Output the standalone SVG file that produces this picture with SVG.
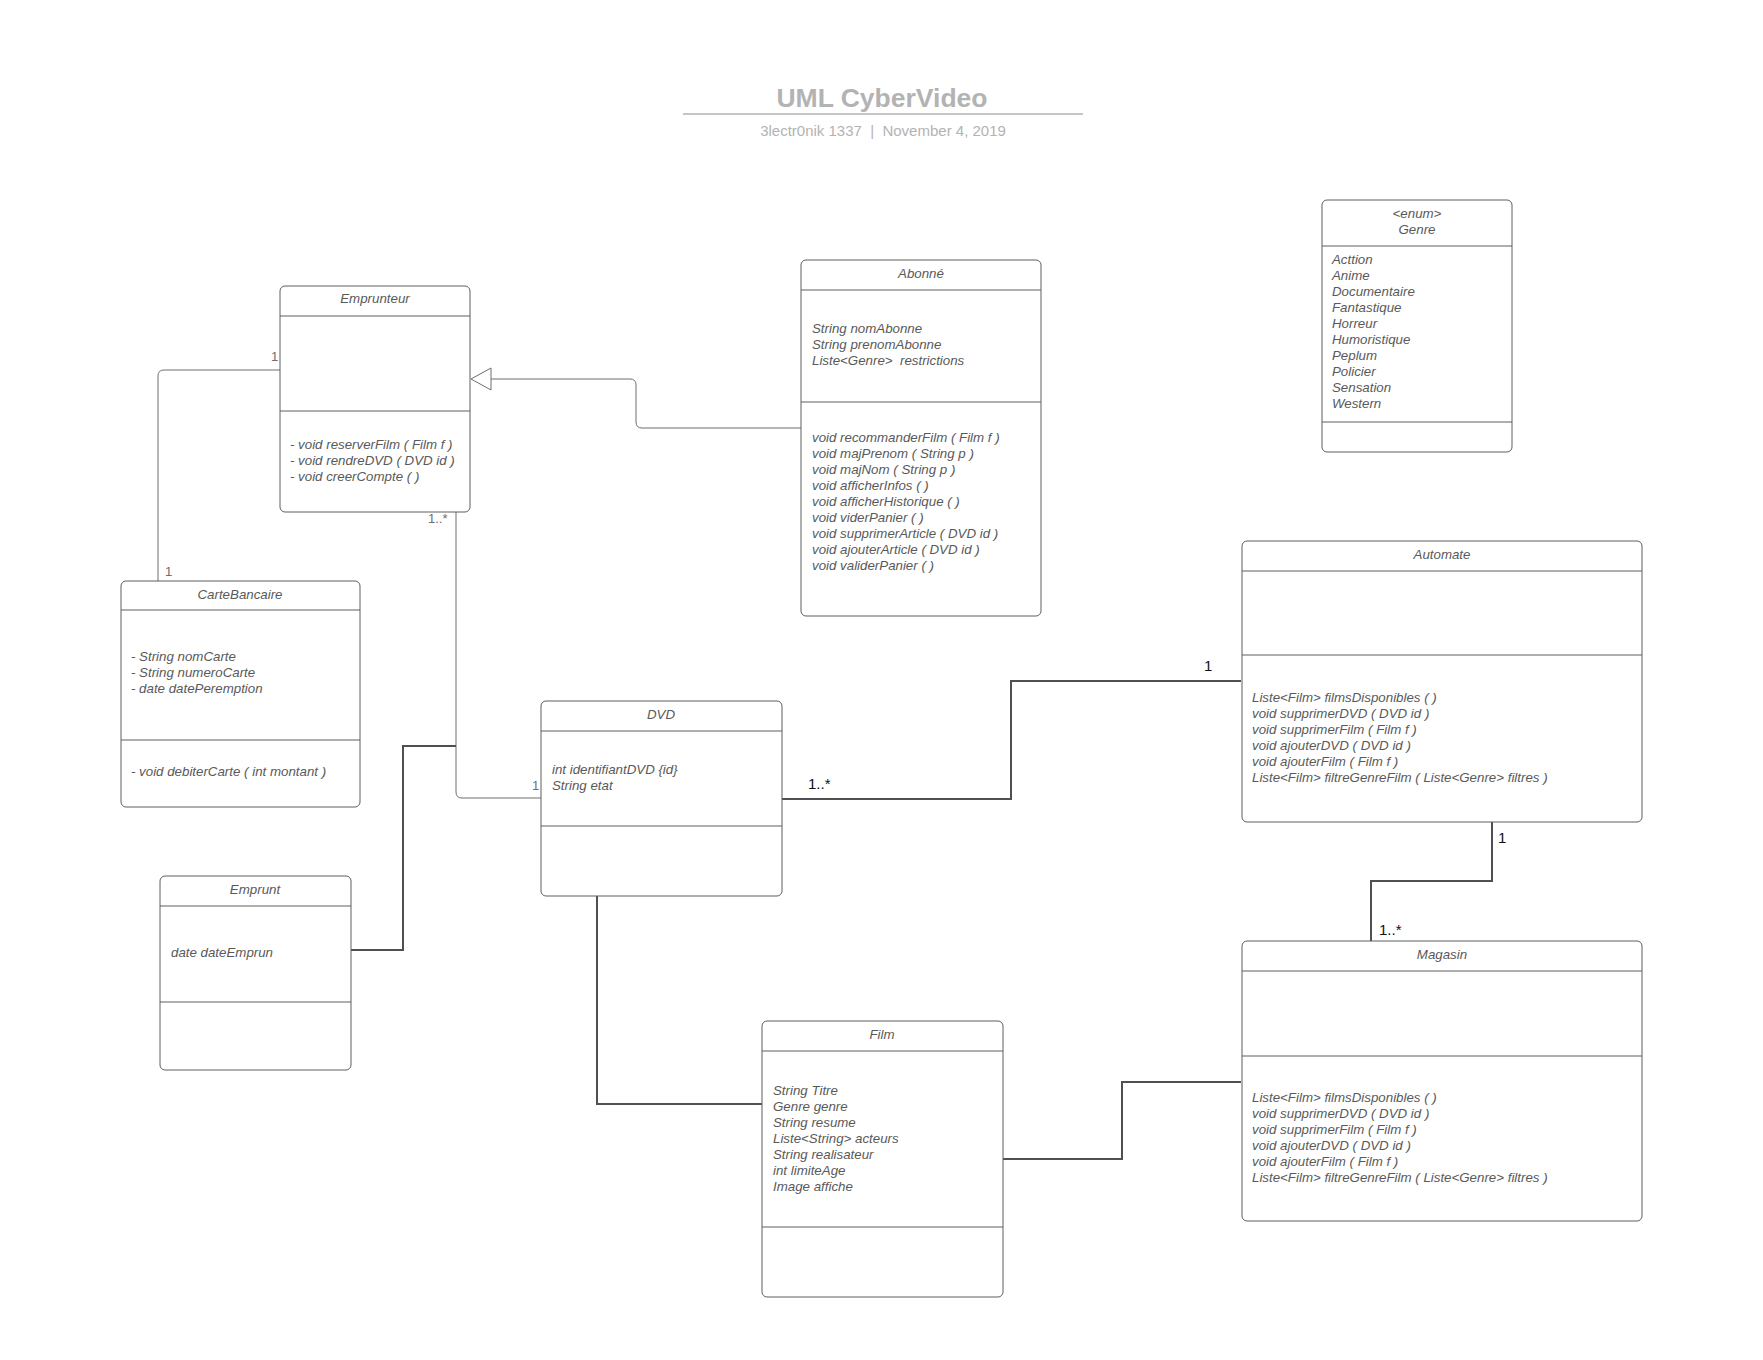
<svg xmlns="http://www.w3.org/2000/svg" width="1763" height="1360" viewBox="0 0 1763 1360">
<defs>
<style>
.box{fill:#fff;stroke:#5e5e5e;stroke-width:1}
.sep{stroke:#5e5e5e;stroke-width:1}
.t{font-family:"Liberation Sans",Arial,sans-serif;font-size:13.3px;font-style:italic;fill:#595959}
.c{text-anchor:middle}
.thin{fill:none;stroke:#6e6e6e;stroke-width:1}
.thick{fill:none;stroke:#505050;stroke-width:2}
.lbl{font-family:"Liberation Sans",Arial,sans-serif;font-size:13px;fill:#6e6e6e}
.lblb{font-family:"Liberation Sans",Arial,sans-serif;font-size:15px;fill:#111}
</style>
</defs>
<rect width="1763" height="1360" fill="#fff"/>
<g id="title">
<text x="882" y="107" text-anchor="middle" font-family="Liberation Sans, Arial, sans-serif" font-size="26.5" font-weight="bold" fill="#b3b3b3">UML CyberVideo</text>
<line x1="683" y1="114" x2="1083" y2="114" stroke="#b3b3b3" stroke-width="1.5"/>
<text x="883" y="136" text-anchor="middle" font-family="Liberation Sans, Arial, sans-serif" font-size="15" fill="#b3b3b3" xml:space="preserve">3lectr0nik 1337  |  November 4, 2019</text>
</g>
<g id="connectors">
<path class="thin" d="M280 370 H164 Q158 370 158 376 V581"/>
<text class="lbl" x="271" y="361">1</text>
<text class="lbl" x="165" y="576">1</text>
<path class="thin" d="M801 428 H642 Q636 428 636 422 V385 Q636 379 630 379 H491"/>
<polygon points="471,379 491,368 491,390" fill="#fff" stroke="#6e6e6e" stroke-width="1"/>
<path class="thin" d="M456 512 V792 Q456 798 462 798 H541"/>
<text class="lbl" x="428" y="523">1..*</text>
<text class="lbl" x="532" y="790">1</text>
<path class="thick" d="M351 950 H403 V746 H456"/>
<path class="thick" d="M782 799 H1011 V681 H1241"/>
<text class="lblb" x="808" y="789">1..*</text>
<text class="lblb" x="1204" y="671">1</text>
<path class="thick" d="M1492 822 V881 H1371 V941"/>
<text class="lblb" x="1498" y="843">1</text>
<text class="lblb" x="1379" y="935">1..*</text>
<path class="thick" d="M597 896 V1104 H762"/>
<path class="thick" d="M1003 1159 H1122 V1082 H1241"/>
</g>
<g id="Emprunteur">
<rect class="box" x="280" y="286" width="190" height="226" rx="5"/>
<line class="sep" x1="280" y1="316" x2="470" y2="316"/>
<line class="sep" x1="280" y1="411" x2="470" y2="411"/>
<text class="t c" x="375" y="303">Emprunteur</text>
<text class="t" x="290" y="449">- void reserverFilm ( Film f )</text>
<text class="t" x="290" y="465">- void rendreDVD ( DVD id )</text>
<text class="t" x="290" y="481">- void creerCompte ( )</text>
</g>
<g id="Abonne">
<rect class="box" x="801" y="260" width="240" height="356" rx="5"/>
<line class="sep" x1="801" y1="290" x2="1041" y2="290"/>
<line class="sep" x1="801" y1="402" x2="1041" y2="402"/>
<text class="t c" x="921" y="278">Abonné</text>
<text class="t" x="812" y="333">String nomAbonne</text>
<text class="t" x="812" y="349">String prenomAbonne</text>
<text class="t" x="812" y="365" xml:space="preserve">Liste&lt;Genre&gt;  restrictions</text>
<text class="t" x="812" y="442">void recommanderFilm ( Film f )</text>
<text class="t" x="812" y="458">void majPrenom ( String p )</text>
<text class="t" x="812" y="474">void majNom ( String p )</text>
<text class="t" x="812" y="490">void afficherInfos ( )</text>
<text class="t" x="812" y="506">void afficherHistorique ( )</text>
<text class="t" x="812" y="522">void viderPanier ( )</text>
<text class="t" x="812" y="538">void supprimerArticle ( DVD id )</text>
<text class="t" x="812" y="554">void ajouterArticle ( DVD id )</text>
<text class="t" x="812" y="570">void validerPanier ( )</text>
</g>
<g id="Genre">
<rect class="box" x="1322" y="200" width="190" height="252" rx="5"/>
<line class="sep" x1="1322" y1="246" x2="1512" y2="246"/>
<line class="sep" x1="1322" y1="422" x2="1512" y2="422"/>
<text class="t c" x="1417" y="218">&lt;enum&gt;</text>
<text class="t c" x="1417" y="234">Genre</text>
<text class="t" x="1332" y="264">Acttion</text>
<text class="t" x="1332" y="280">Anime</text>
<text class="t" x="1332" y="296">Documentaire</text>
<text class="t" x="1332" y="312">Fantastique</text>
<text class="t" x="1332" y="328">Horreur</text>
<text class="t" x="1332" y="344">Humoristique</text>
<text class="t" x="1332" y="360">Peplum</text>
<text class="t" x="1332" y="376">Policier</text>
<text class="t" x="1332" y="392">Sensation</text>
<text class="t" x="1332" y="408">Western</text>
</g>
<g id="CarteBancaire">
<rect class="box" x="121" y="581" width="239" height="226" rx="5"/>
<line class="sep" x1="121" y1="610" x2="360" y2="610"/>
<line class="sep" x1="121" y1="740" x2="360" y2="740"/>
<text class="t c" x="240" y="599">CarteBancaire</text>
<text class="t" x="131" y="661">- String nomCarte</text>
<text class="t" x="131" y="677">- String numeroCarte</text>
<text class="t" x="131" y="693">- date datePeremption</text>
<text class="t" x="131" y="776">- void debiterCarte ( int montant )</text>
</g>
<g id="Emprunt">
<rect class="box" x="160" y="876" width="191" height="194" rx="5"/>
<line class="sep" x1="160" y1="906" x2="351" y2="906"/>
<line class="sep" x1="160" y1="1002" x2="351" y2="1002"/>
<text class="t c" x="255" y="894">Emprunt</text>
<text class="t" x="171" y="957">date dateEmprun</text>
</g>
<g id="DVD">
<rect class="box" x="541" y="701" width="241" height="195" rx="5"/>
<line class="sep" x1="541" y1="731" x2="782" y2="731"/>
<line class="sep" x1="541" y1="826" x2="782" y2="826"/>
<text class="t c" x="661" y="719">DVD</text>
<text class="t" x="552" y="774">int identifiantDVD {id}</text>
<text class="t" x="552" y="790">String etat</text>
</g>
<g id="Automate">
<rect class="box" x="1242" y="541" width="400" height="281" rx="5"/>
<line class="sep" x1="1242" y1="571" x2="1642" y2="571"/>
<line class="sep" x1="1242" y1="655" x2="1642" y2="655"/>
<text class="t c" x="1442" y="559">Automate</text>
<text class="t" x="1252" y="702">Liste&lt;Film&gt; filmsDisponibles ( )</text>
<text class="t" x="1252" y="718">void supprimerDVD ( DVD id )</text>
<text class="t" x="1252" y="734">void supprimerFilm ( Film f )</text>
<text class="t" x="1252" y="750">void ajouterDVD ( DVD id )</text>
<text class="t" x="1252" y="766">void ajouterFilm ( Film f )</text>
<text class="t" x="1252" y="782">Liste&lt;Film&gt; filtreGenreFilm ( Liste&lt;Genre&gt; filtres )</text>
</g>
<g id="Magasin">
<rect class="box" x="1242" y="941" width="400" height="280" rx="5"/>
<line class="sep" x1="1242" y1="971" x2="1642" y2="971"/>
<line class="sep" x1="1242" y1="1056" x2="1642" y2="1056"/>
<text class="t c" x="1442" y="959">Magasin</text>
<text class="t" x="1252" y="1102">Liste&lt;Film&gt; filmsDisponibles ( )</text>
<text class="t" x="1252" y="1118">void supprimerDVD ( DVD id )</text>
<text class="t" x="1252" y="1134">void supprimerFilm ( Film f )</text>
<text class="t" x="1252" y="1150">void ajouterDVD ( DVD id )</text>
<text class="t" x="1252" y="1166">void ajouterFilm ( Film f )</text>
<text class="t" x="1252" y="1182">Liste&lt;Film&gt; filtreGenreFilm ( Liste&lt;Genre&gt; filtres )</text>
</g>
<g id="Film">
<rect class="box" x="762" y="1021" width="241" height="276" rx="5"/>
<line class="sep" x1="762" y1="1051" x2="1003" y2="1051"/>
<line class="sep" x1="762" y1="1227" x2="1003" y2="1227"/>
<text class="t c" x="882" y="1039">Film</text>
<text class="t" x="773" y="1095">String Titre</text>
<text class="t" x="773" y="1111">Genre genre</text>
<text class="t" x="773" y="1127">String resume</text>
<text class="t" x="773" y="1143">Liste&lt;String&gt; acteurs</text>
<text class="t" x="773" y="1159">String realisateur</text>
<text class="t" x="773" y="1175">int limiteAge</text>
<text class="t" x="773" y="1191">Image affiche</text>
</g>
</svg>
